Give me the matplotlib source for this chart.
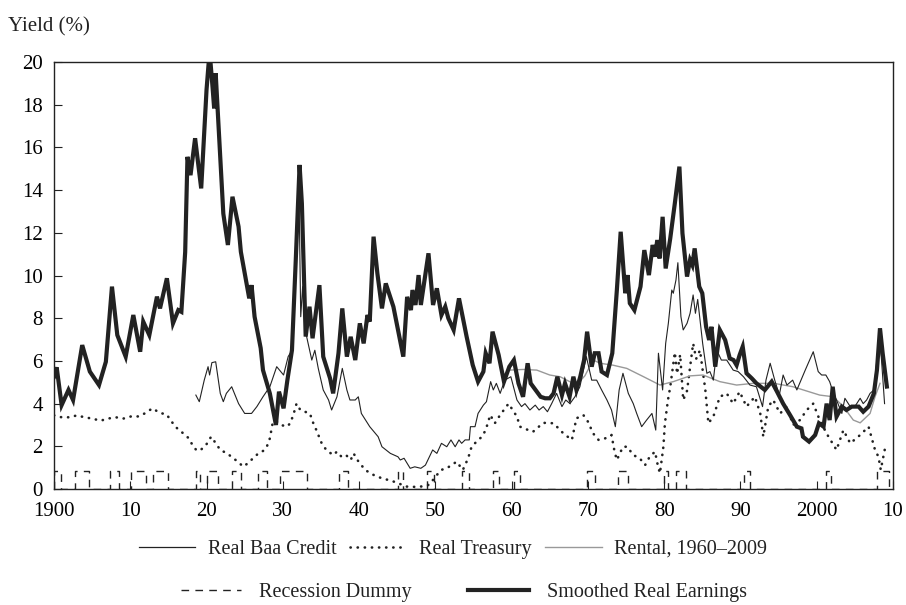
import matplotlib
matplotlib.use('Agg')
import matplotlib.pyplot as plt
from matplotlib.lines import Line2D

plt.rcParams['font.family'] = ['Liberation Serif', 'DejaVu Serif']

# smoothed real earnings yield
earn_year = [1900.0, 1900.35, 1901.0, 1901.9, 1902.5, 1903.7, 1904.7, 1905.9, 1906.8, 1907.6,
             1908.3, 1909.4, 1910.4, 1911.3, 1911.7, 1912.5, 1913.5, 1913.9, 1914.8, 1915.6,
             1916.3, 1916.7, 1917.2, 1917.5, 1917.9, 1918.5, 1919.3, 1920.0, 1920.4, 1920.8,
             1921.0, 1921.2, 1922.2, 1922.8, 1923.4, 1924.2, 1924.5, 1925.6, 1925.9, 1926.3,
             1927.1, 1927.4, 1928.3, 1929.1, 1929.5, 1930.1, 1930.6, 1931.2, 1931.7, 1932.2,
             1932.5, 1933.0, 1933.5, 1933.9, 1934.8, 1935.3, 1936.2, 1936.6, 1937.3, 1937.8,
             1938.4, 1938.9, 1939.5, 1940.1, 1940.6, 1941.1, 1941.4, 1941.9, 1942.4, 1943.0,
             1943.5, 1944.5, 1945.8, 1946.3, 1946.8, 1947.0, 1947.4, 1947.8, 1948.1, 1949.1,
             1949.7, 1950.2, 1950.8, 1951.3, 1951.7, 1952.4, 1953.1, 1954.1, 1954.9, 1955.6,
             1956.3, 1956.6, 1957.1, 1957.5, 1958.3, 1959.0, 1959.7, 1960.3, 1960.9, 1961.5,
             1962.1, 1962.5, 1963.3, 1963.8, 1964.4, 1965.0, 1965.5, 1966.0, 1966.6, 1967.0,
             1967.6, 1968.1, 1968.5, 1969.0, 1969.5, 1969.9, 1970.5, 1970.9, 1971.4, 1971.8,
             1972.5, 1973.2, 1973.8, 1974.3, 1974.9, 1975.2, 1975.5, 1976.1, 1976.9, 1977.4,
             1978.0, 1978.5, 1978.8, 1979.1, 1979.4, 1979.8, 1980.2, 1980.8, 1981.4, 1982.0,
             1982.4, 1983.0, 1983.4, 1983.7, 1984.0, 1984.6, 1985.0, 1985.5, 1985.9, 1986.2,
             1986.7, 1987.3, 1988.0, 1988.6, 1989.1, 1989.5, 1989.9, 1990.3, 1990.8, 1991.5,
             1992.1, 1993.2, 1994.1, 1994.8, 1995.6, 1996.5, 1997.4, 1998.0, 1998.2, 1999.0,
             1999.8, 2000.3, 2000.9, 2001.3, 2001.7, 2002.1, 2002.6, 2003.3, 2003.9, 2004.6,
             2005.5, 2006.1, 2006.8, 2007.5, 2007.9, 2008.3, 2008.65, 2009.2]
earn_val = [5.26, 5.7, 3.93, 4.64, 4.17, 6.74, 5.5, 4.87, 5.96, 9.48,
            7.21, 6.2, 8.15, 6.43, 7.84, 7.21, 9.01, 8.46, 9.87, 7.76,
            8.38, 8.3, 11.1, 15.56, 14.7, 16.43, 14.08, 18.7, 20.5, 18.77,
            17.83, 19.47, 12.9, 11.43, 13.69, 12.29, 11.11, 8.93, 9.55, 8.07,
            6.6, 5.57, 4.48, 3.0, 4.56, 3.78, 5.1, 6.5, 10.73, 15.18,
            13.38, 7.14, 8.54, 7.06, 9.55, 6.2, 5.18, 4.48, 6.36, 8.46,
            6.2, 7.13, 6.04, 7.76, 6.82, 8.15, 7.84, 11.82, 10.1, 8.46,
            9.63, 8.54, 6.2, 9.0, 8.38, 9.32, 8.62, 10.02, 8.62, 11.04,
            8.62, 9.4, 8.15, 8.54, 8.0, 7.45, 8.93, 7.14, 5.81, 5.03,
            5.5, 6.36, 5.89, 7.37, 6.28, 5.03, 5.73, 6.04, 4.95, 4.32,
            5.89, 4.95, 4.56, 4.32, 4.25, 4.25, 4.48, 5.26, 4.4, 4.95,
            4.32, 5.26, 4.64, 5.26, 6.04, 7.37, 5.73, 6.36, 6.36, 5.5,
            5.34, 6.36, 9.32, 12.05, 9.17, 10.02, 8.7, 8.38, 9.48, 11.19,
            10.02, 11.43, 10.88, 11.66, 10.8, 12.75, 10.33, 11.74, 13.38, 15.1,
            11.98, 9.95, 10.73, 10.49, 11.27, 9.48, 9.17, 7.6, 6.98, 7.6,
            5.73, 7.45, 6.98, 6.12, 6.04, 5.8, 6.28, 6.67, 5.42, 5.18,
            4.95, 4.64, 5.03, 4.56, 4.0, 3.47, 2.92, 2.84, 2.45, 2.22,
            2.53, 3.08, 2.92, 4.0, 3.23, 4.79, 3.39, 3.86, 3.7, 3.86,
            3.86, 3.62, 3.86, 4.48, 5.57, 7.53, 6.36, 4.8]

# real Baa credit yield
baa_year = [1918.6, 1919.05, 1919.7, 1920.2, 1920.4, 1920.7, 1921.2, 1921.8, 1922.2, 1922.6,
            1923.3, 1924.2, 1925.0, 1925.9, 1926.6, 1927.4, 1928.3, 1929.2, 1930.1, 1930.7,
            1931.2, 1931.7, 1932.1, 1932.35, 1932.6, 1932.9, 1933.8, 1934.2, 1934.65, 1935.3,
            1936.0, 1936.4, 1937.1, 1937.8, 1938.4, 1938.8, 1939.5, 1939.9, 1940.3, 1941.4,
            1942.5, 1943.0, 1944.1, 1945.1, 1945.4, 1945.9, 1946.7, 1947.3, 1948.1, 1948.7,
            1949.65, 1950.2, 1950.8, 1951.5, 1952.05, 1952.6, 1953.1, 1953.45, 1953.9, 1954.45,
            1954.6, 1955.2, 1955.6, 1956.3, 1956.7, 1957.25, 1957.6, 1958.0, 1958.5, 1959.1,
            1959.9, 1960.7, 1961.3, 1961.75, 1962.4, 1963.1, 1963.6, 1964.15, 1964.7, 1965.25,
            1965.9, 1966.6, 1967.1, 1967.65, 1968.3, 1968.95, 1969.8, 1970.5, 1971.15, 1971.8,
            1972.5, 1973.1, 1973.6, 1974.1, 1974.6, 1975.3, 1975.95, 1976.4, 1977.05, 1977.7,
            1978.4, 1978.9, 1979.25, 1979.8, 1980.2, 1980.55, 1981.0, 1981.2, 1981.55, 1981.8,
            1982.2, 1982.5, 1983.0, 1983.4, 1983.8, 1984.1, 1984.4, 1985.05, 1985.6, 1986.0,
            1986.45, 1986.9, 1987.5, 1988.2, 1989.05, 1989.7, 1990.4, 1991.25, 1992.1, 1992.9,
            1993.35, 1993.9, 1994.5, 1995.1, 1995.6, 1996.1, 1996.85, 1997.4, 1998.5, 1999.55,
            2000.2, 2000.65, 2001.2, 2001.7, 2002.2, 2002.6, 2003.3, 2003.7, 2004.4, 2005.0,
            2005.7, 2006.1, 2006.55, 2007.0, 2007.5, 2007.9, 2008.2, 2008.5, 2008.9]
baa_val = [4.4, 4.09, 5.1, 5.73, 5.34, 5.92, 5.96, 4.48, 4.09, 4.48,
           4.79, 4.0, 3.54, 3.54, 3.86, 4.32, 4.79, 5.73, 5.34, 6.2,
           6.5, 10.5, 14.5, 8.07, 9.48, 7.5, 6.04, 6.5, 5.65, 4.64,
           4.17, 3.7, 4.32, 5.65, 4.64, 4.17, 4.17, 4.32, 3.54, 2.92,
           2.45, 1.98, 1.67, 1.51, 1.36, 1.44, 0.97, 1.04, 0.97, 1.12,
           1.83, 1.67, 2.14, 1.98, 2.3, 1.98, 2.3, 2.14, 2.3, 2.3,
           2.92, 2.92, 3.54, 3.93, 4.09, 5.03, 4.64, 4.95, 4.48, 5.1,
           5.26, 4.17, 3.86, 4.0, 3.7, 3.93, 3.7, 3.86, 3.62, 4.0,
           4.48, 3.86, 4.17, 4.0, 4.32, 4.79, 6.2, 5.1, 5.1, 4.64,
           4.17, 3.7, 2.92, 4.64, 5.42, 4.48, 4.0, 3.54, 2.92, 3.23,
           3.54, 2.76, 6.36, 4.64, 6.82, 7.76, 9.32, 9.17, 9.79, 10.6,
           8.07, 7.45, 7.76, 8.23, 9.09, 8.23, 8.88, 6.82, 5.42, 5.5,
           5.1, 6.5, 6.04, 6.04, 5.57, 5.5, 5.26, 4.87, 4.79, 3.86,
           5.1, 5.89, 5.1, 4.4, 5.34, 4.87, 5.1, 4.64, 5.57, 6.43,
           5.5, 5.34, 5.34, 5.03, 4.48, 4.17, 3.54, 4.25, 3.86, 3.86,
           4.25, 4.0, 4.17, 4.48, 4.64, 6.04, 7.14, 6.04, 4.0]

# real Treasury yield
tsy_year = [1900.0, 1901.0, 1902.1, 1903.0, 1904.0, 1905.0, 1906.1, 1907.1, 1908.1, 1909.1,
            1910.1, 1911.1, 1912.0, 1912.9, 1913.9, 1914.75, 1915.35, 1915.9, 1916.8, 1917.6,
            1918.1, 1918.7, 1919.3, 1920.0, 1920.6, 1921.2, 1921.8, 1922.7, 1923.3, 1924.1,
            1924.8, 1925.4, 1926.1, 1926.8, 1927.5, 1927.9, 1928.3, 1928.7, 1929.2, 1929.8,
            1930.5, 1931.0, 1931.5, 1931.8, 1932.3, 1932.9, 1933.55, 1934.0, 1934.4, 1935.1,
            1935.7, 1936.6, 1937.1, 1937.7, 1938.3, 1938.9, 1939.3, 1939.6, 1940.8, 1941.9,
            1943.0, 1944.1, 1945.2, 1946.0, 1947.1, 1948.2, 1949.2, 1950.2, 1950.8, 1951.5,
            1952.1, 1952.8, 1953.6, 1954.3, 1954.75, 1955.4, 1956.1, 1956.6, 1957.2, 1957.8,
            1958.5, 1959.6, 1960.7, 1961.1, 1962.2, 1962.8, 1964.15, 1965.5, 1966.8, 1967.9,
            1968.5, 1969.4, 1970.0, 1970.7, 1971.4, 1972.25, 1973.1, 1973.5, 1973.8, 1974.6,
            1975.2, 1975.9, 1976.8, 1977.5, 1978.1, 1978.8, 1979.2, 1979.45, 1979.9, 1980.1,
            1980.5, 1980.8, 1981.1, 1981.4, 1981.7, 1982.1, 1982.5, 1983.0, 1983.8, 1984.2,
            1984.7, 1985.4, 1985.8, 1986.45, 1987.3, 1988.2, 1989.05, 1989.9, 1990.8, 1991.9,
            1992.6, 1993.0, 1993.65, 1994.3, 1995.2, 1996.1, 1996.9, 1997.8, 1998.7, 1999.55,
            2000.4, 2001.3, 2002.6, 2003.5, 2004.4, 2005.7, 2006.8, 2007.65, 2008.1, 2008.4,
            2009.0]
tsy_val = [3.45, 3.36, 3.36, 3.45, 3.36, 3.3, 3.2, 3.3, 3.36, 3.3,
           3.4, 3.4, 3.56, 3.78, 3.56, 3.5, 3.2, 2.92, 2.65, 2.4,
           2.1, 1.8, 1.85, 2.1, 2.45, 2.15, 1.83, 1.67, 1.5, 1.28,
           1.05, 1.2, 1.44, 1.67, 1.8, 1.98, 2.37, 3.15, 3.15, 3.0,
           2.92, 3.08, 3.62, 4.0, 3.7, 3.62, 3.54, 3.08, 2.76, 2.14,
           1.83, 1.59, 1.75, 1.51, 1.59, 1.36, 1.67, 1.44, 0.89, 0.66,
           0.5, 0.4, 0.27, 0.12, 0.1, 0.12, 0.2, 0.66, 0.9, 0.97,
           1.12, 1.28, 0.89, 1.44, 1.98, 2.22, 2.45, 2.76, 3.47, 3.08,
           3.47, 4.0, 3.39, 2.92, 2.76, 2.68, 3.1, 3.08, 2.6, 2.3,
           3.31, 3.47, 3.16, 2.6, 2.3, 2.37, 2.53, 1.75, 1.36, 1.98,
           1.98, 1.6, 1.44, 1.12, 1.51, 1.75, 1.05, 0.74, 1.98, 3.08,
           4.17, 4.79, 5.6, 6.4, 5.4, 6.3, 4.17, 4.6, 6.82, 6.1,
           6.5, 4.64, 3.08, 3.39, 4.32, 4.48, 4.0, 4.56, 3.86, 4.32,
           3.54, 2.45, 3.86, 4.17, 3.54, 3.86, 3.0, 3.23, 3.7, 4.0,
           3.23, 2.6, 1.83, 2.76, 2.14, 2.53, 2.92, 1.83, 1.51, 0.9,
           1.98]

# rental yield, 1960-2009
rent_year = [1959.8, 1961.5, 1963.3, 1965.0, 1966.35, 1968.5, 1969.6, 1970.7, 1971.6, 1973.3,
             1975.1, 1977.3, 1979.45, 1981.2, 1983.4, 1985.1, 1987.3, 1989.5, 1991.7, 1994.4,
             1996.9, 2000.4, 2002.2, 2003.5, 2004.8, 2005.7, 2007.0, 2007.65, 2008.3]
rent_val = [5.57, 5.6, 5.57, 5.34, 5.26, 4.87, 5.3, 6.04, 5.89, 5.8,
            5.65, 5.26, 4.87, 5.03, 5.3, 5.34, 5.03, 4.87, 4.95, 4.95,
            4.79, 4.4, 4.32, 3.86, 3.23, 3.1, 3.54, 4.32, 4.95]

# recession periods (dummy = 1 inside)
rec_start = [1899.5, 1902.7, 1907.4, 1910.1, 1913.0, 1918.6, 1920.0, 1923.4, 1926.8, 1929.6,
             1937.4, 1945.1, 1948.9, 1953.5, 1957.6, 1960.3, 1969.9, 1973.9, 1980.0, 1981.5,
             1990.5, 2001.2, 2007.9]
rec_end = [1900.9, 1904.6, 1908.5, 1912.0, 1914.9, 1919.2, 1921.5, 1924.5, 1927.9, 1933.2,
           1938.5, 1945.8, 1949.8, 1954.4, 1958.3, 1961.1, 1970.9, 1975.2, 1980.5, 1982.9,
           1991.2, 2001.9, 2009.5]
rec_level = 0.85

dum_x = [1900.0]
dum_y = [0.0]
for s, e in zip(rec_start, rec_end):
    s = max(s, 1900.0)
    dum_x += [s, s, e, e]
    dum_y += [0, rec_level, rec_level, 0]
dum_x.append(2010.0)
dum_y.append(0.0)

dotted = (0, (0.1, 2.6))
dashed = (0, (5.5, 4.5))

fig = plt.figure(figsize=(9.06, 6.05), dpi=100)
ax = fig.add_axes([0.0596, 0.1917, 0.926, 0.7058])

ax.plot(dum_x, dum_y, color='#222222', lw=1.0, ls=dashed)
ax.plot(tsy_year, tsy_val, color='#222222', lw=1.9, ls=dotted, dash_capstyle='round')
ax.plot(rent_year, rent_val, color='#999999', lw=1.0)
ax.plot(baa_year, baa_val, color='#222222', lw=0.8)
ax.plot(earn_year, earn_val, color='#222222', lw=3.0, solid_joinstyle='miter')

ax.set_xlim(1900, 2010)
ax.set_ylim(0, 20)
ax.set_xticks(range(1900, 2011, 10))
ax.set_xticklabels(['1900', '10', '20', '30', '40', '50', '60', '70', '80', '90', '2000', '10'])
ax.set_yticks(range(0, 21, 2))
ax.tick_params(direction='in', length=6, width=0.8, labelsize=15, color='#222222')
ax.tick_params(axis='x', pad=9)
ax.tick_params(axis='y', pad=8)
for sp in ax.spines.values():
    sp.set_linewidth(1.0)
    sp.set_color('#222222')

fig.text(0.009, 0.955, 'Yield (%)', fontsize=15, color='#222222', va='center', ha='left')

h1 = [Line2D([], [], color='#222222', lw=0.9),
      Line2D([], [], color='#222222', lw=1.9, ls=dotted, dash_capstyle='round'),
      Line2D([], [], color='#999999', lw=1.0)]
l1 = ['Real Baa Credit', 'Real Treasury', 'Rental, 1960\u20132009']
leg1 = fig.legend(h1, l1, loc='center', bbox_to_anchor=(0.5, 0.092), ncol=3, frameon=False,
                  fontsize=14.5, handlelength=2.8, columnspacing=0.7, handletextpad=0.6)
h2 = [Line2D([], [], color='#222222', lw=1.0, ls=dashed),
      Line2D([], [], color='#222222', lw=3.0)]
l2 = ['Recession Dummy', 'Smoothed Real Earnings']
leg2 = fig.legend(h2, l2, loc='center', bbox_to_anchor=(0.512, 0.021), ncol=2, frameon=False,
                  fontsize=14.5, handlelength=3.0, columnspacing=2.8, handletextpad=0.9)
for lg in (leg1, leg2):
    for t in lg.get_texts():
        t.set_color('#222222')

fig.savefig('out.png', dpi=100)
